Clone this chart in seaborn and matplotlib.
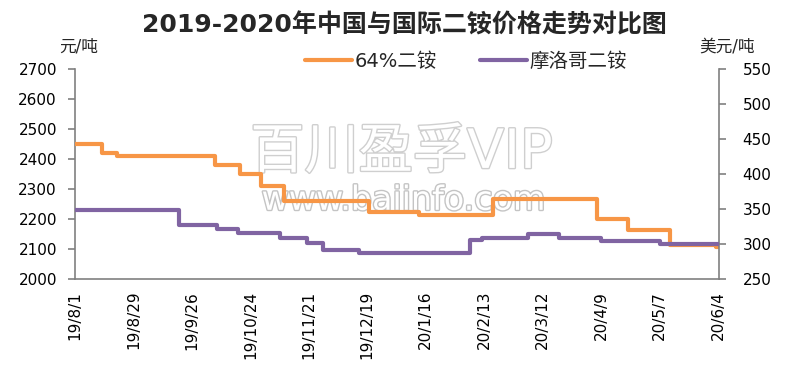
## Librerías

import numpy as np
import pandas as pd
import matplotlib
matplotlib.use("Agg")
import matplotlib.pyplot as plt
import matplotlib.patheffects as pe
import seaborn as sns

## Datos

# Etiquetas del eje x (cada 28 días)
tick_labels = ["19/8/1", "19/8/29", "19/9/26", "19/10/24", "19/11/21", "19/12/19",
               "20/1/16", "20/2/13", "20/3/12", "20/4/9", "20/5/7", "20/6/4"]

# 64%二铵 (元/吨, eje izquierdo): fechas de cambio y precio
dap_dates = ["2019-08-01", "2019-08-14", "2019-08-21", "2019-10-07", "2019-10-19",
             "2019-10-29", "2019-11-09", "2019-12-20", "2020-01-13", "2020-02-17",
             "2020-04-07", "2020-04-22", "2020-05-12", "2020-06-03", "2020-06-04"]
dap_values = [2450, 2420, 2410, 2380, 2350, 2310, 2260, 2225, 2215, 2268,
              2200, 2165, 2115, 2108, 2108]

# 摩洛哥二铵 (美元/吨, eje derecho)
mor_dates = ["2019-08-01", "2019-09-20", "2019-10-08", "2019-10-18", "2019-11-07",
             "2019-11-20", "2019-11-28", "2019-12-15", "2020-02-06", "2020-02-12",
             "2020-03-05", "2020-03-20", "2020-04-09", "2020-05-07", "2020-06-04"]
mor_values = [348, 327, 322, 316, 308, 302, 291, 287, 306, 308,
              314, 308, 305, 300, 300]

## Estilo

orange = "#F79646"
purple = "#8064A2"
gris = "#808080"

sns.set_style("white")
plt.rcParams["font.family"] = ["DejaVu Sans", "Noto Sans CJK SC"]

fig, ax = plt.subplots(figsize=(7.98, 3.73), dpi=100)
fig.subplots_adjust(left=0.094, right=0.901, bottom=0.252, top=0.815)
ax2 = ax.twinx()

df_dap = pd.DataFrame({"fecha": pd.to_datetime(dap_dates), "precio": dap_values})
df_mor = pd.DataFrame({"fecha": pd.to_datetime(mor_dates), "precio": mor_values})

sns.lineplot(data=df_dap, x="fecha", y="precio", ax=ax, color=orange, linewidth=3,
             drawstyle="steps-post", label="64%二铵", legend=False, zorder=3)
sns.lineplot(data=df_mor, x="fecha", y="precio", ax=ax2, color=purple, linewidth=3,
             drawstyle="steps-post", label="摩洛哥二铵", legend=False, zorder=3)

# Ejes
tick_dates = [pd.Timestamp(2000 + int(t.split("/")[0]), int(t.split("/")[1]), int(t.split("/")[2]))
              for t in tick_labels]
ax.set_xlim(tick_dates[0], tick_dates[-1] + pd.Timedelta(hours=12))
ax.set_xticks(tick_dates)
ax.set_xticklabels(tick_labels, rotation=90, fontsize=11)

ax.set_ylim(2000, 2700)
ax.set_yticks(np.arange(2000, 2701, 100))
ax2.set_ylim(250, 550)
ax2.set_yticks(np.arange(250, 551, 50))

for a in (ax, ax2):
    a.set_xlabel("")
    a.set_ylabel("")
    a.spines["top"].set_visible(False)
    for s in ("left", "right", "bottom"):
        a.spines[s].set_color(gris)
        a.spines[s].set_linewidth(1.2)
    a.tick_params(axis="both", direction="out", length=5, width=1.2, color=gris,
                  labelsize=11, labelcolor="black")
ax.tick_params(axis="y", pad=8)
ax2.tick_params(axis="y", pad=12)
ax.spines["right"].set_visible(False)
ax2.spines["left"].set_visible(False)
ax2.spines["bottom"].set_visible(False)

# Marca de agua
ax.text(0.503, 0.59, "百川盈孚VIP", transform=fig.transFigure, ha="center", va="center",
        fontsize=39, color="white", zorder=0,
        path_effects=[pe.withStroke(linewidth=2, foreground="#cfcfcf")])
ax.text(0.506, 0.463, "www.baiinfo.com", transform=fig.transFigure, ha="center", va="center",
        fontsize=24, color="white", zorder=0,
        path_effects=[pe.withStroke(linewidth=2, foreground="#c4c4c4")])

# Títulos y unidades
fig.text(0.507, 0.933, "2019-2020年中国与国际二铵价格走势对比图", ha="center", va="center",
         fontsize=18, fontweight="bold")
fig.text(0.098, 0.874, "元/吨", ha="center", va="center", fontsize=12)
fig.text(0.911, 0.874, "美元/吨", ha="center", va="center", fontsize=12)

# Leyenda
handles = ax.get_lines() + ax2.get_lines()
fig.legend(handles, [h.get_label() for h in handles], loc="center",
           bbox_to_anchor=(0.584, 0.836), ncol=2, frameon=False, fontsize=14,
           handlelength=2.4, handletextpad=0.15, columnspacing=2.2)

plt.savefig("out.png", dpi=100)
